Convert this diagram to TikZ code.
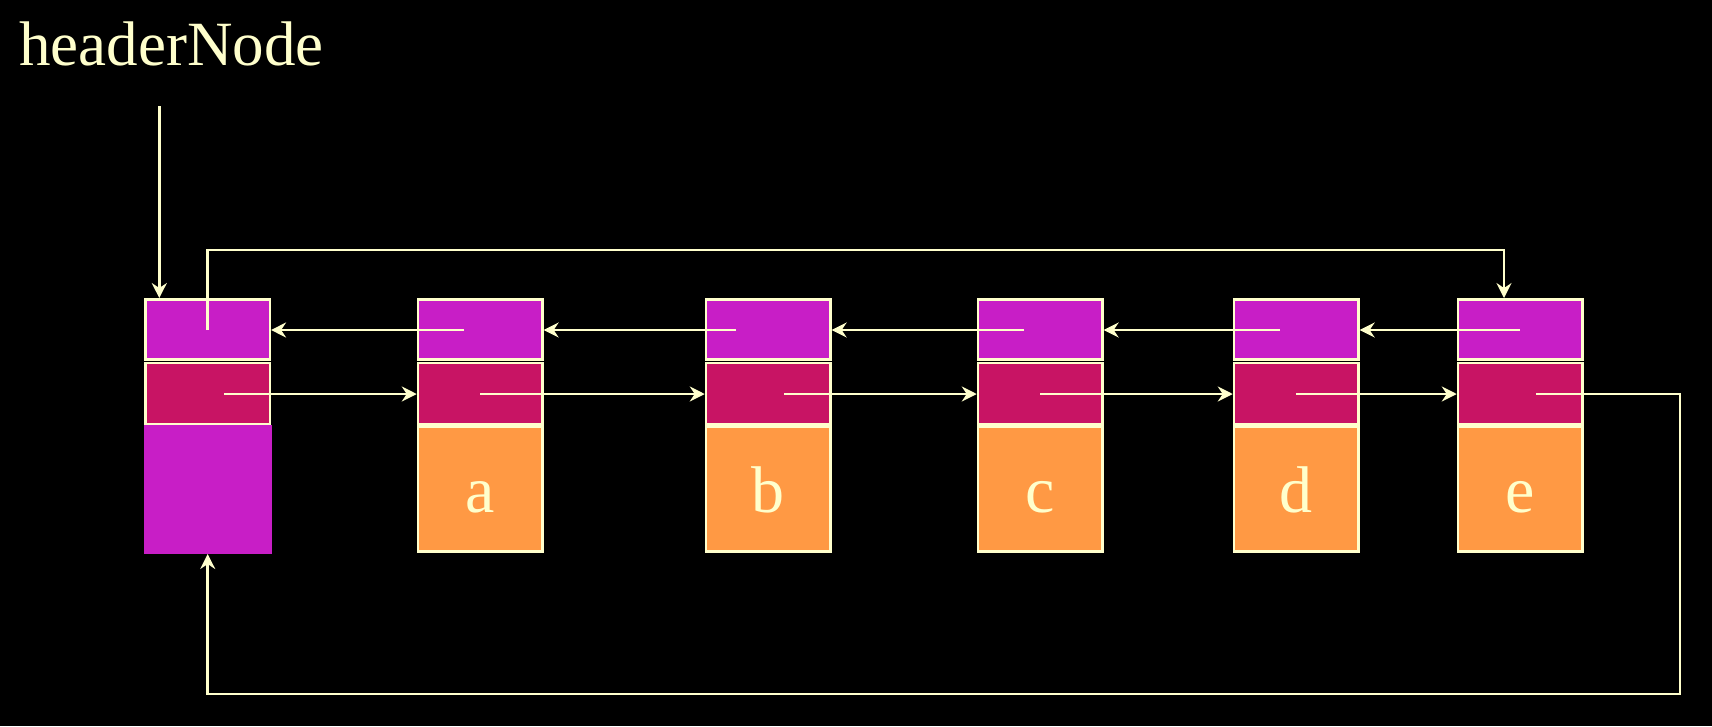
\documentclass[tikz,border=0pt]{standalone}
\usepackage{fontspec}
\setmainfont{Liberation Serif}
\usetikzlibrary{arrows.meta}
\definecolor{bg}{HTML}{000000}
\definecolor{cream}{HTML}{FFFFCC}
\definecolor{magentacell}{HTML}{C81EC6}
\definecolor{crimsoncell}{HTML}{C81464}
\definecolor{orangecell}{HTML}{FF9944}
\begin{document}
\begin{tikzpicture}[x=1pt,y=-1pt,
  cell/.style={rectangle,draw=cream,line width=2.5pt,inner sep=0pt,minimum width=124.4pt},
  topcell/.style={cell,fill=magentacell,minimum height=60.4pt},
  midcell/.style={cell,fill=crimsoncell,minimum height=61pt},
  datacell/.style={cell,fill=orangecell,minimum height=125.4pt},
  headbottom/.style={rectangle,fill=magentacell,draw=none,inner sep=0pt,outer sep=0pt,minimum width=128pt,minimum height=129pt},
  letter/.style={text=cream,anchor=base,inner sep=0pt,font=\fontsize{66}{70}\selectfont},
  link/.style={draw=cream,line width=2.5pt},
  arr/.style={link,-{Stealth[length=15pt,width=15pt,inset=5pt]}}
]
\fill[bg] (0,0) rectangle (1712,726);
\useasboundingbox (0,0) rectangle (1712,726);

% title
\node[text=cream,anchor=base west,inner sep=0pt,font=\fontsize{63}{70}\selectfont] (title) at (19,65) {headerNode};

% header node
\node[topcell] (h1) at (207.6,329.5) {};
\node[midcell] (h2) at (207.6,393.3) {};
\node[headbottom] (h3) at (208,489.5) {};

% data nodes
\foreach \n/\x/\t in {a/480.2/a, b/768.2/b, c/1040.2/c, d/1296.2/d, e/1520.2/e}{
  \node[topcell] (\n1) at (\x,329.5) {};
  \node[midcell] (\n2) at (\x,393.3) {};
  \node[datacell] (\n3) at (\x,489) {};
  \node[letter] (\n L) at (\x,512) {\t};
}

% link start points
\coordinate (hs) at (159.3,106);
\coordinate (hp) at (207.7,330);
\coordinate (hn) at (224,394);
\coordinate (ap) at (464,330);   \coordinate (an) at (480,394);
\coordinate (bp) at (735.7,330); \coordinate (bn) at (784,394);
\coordinate (cp) at (1024,330);  \coordinate (cn) at (1040,394);
\coordinate (dp) at (1280,330);  \coordinate (dn) at (1296,394);
\coordinate (ep) at (1520,330);  \coordinate (en) at (1536,394);
\coordinate (tl) at (207.7,250);
\coordinate (tr) at (1504,250);
\coordinate (rc) at (1680,394);
\coordinate (rb) at (1680,694);
\coordinate (lb) at (207.7,694);

% header pointer
\draw[arr] (hs) -- (hs |- h1.north);

% prev links
\draw[arr] (ap) -- (ap -| h1.east);
\draw[arr] (bp) -- (bp -| a1.east);
\draw[arr] (cp) -- (cp -| b1.east);
\draw[arr] (dp) -- (dp -| c1.east);
\draw[arr] (ep) -- (ep -| d1.east);

% next links
\draw[arr] (hn) -- (hn -| a2.west);
\draw[arr] (an) -- (an -| b2.west);
\draw[arr] (bn) -- (bn -| c2.west);
\draw[arr] (cn) -- (cn -| d2.west);
\draw[arr] (dn) -- (dn -| e2.west);

% header prev -> e
\draw[arr] (hp) -- (tl) -- (tr) -- (tr |- e1.north);

% e next -> header
\draw[arr] (en) -- (rc) -- (rb) -- (lb) -- (lb |- h3.south);
\end{tikzpicture}
\end{document}
